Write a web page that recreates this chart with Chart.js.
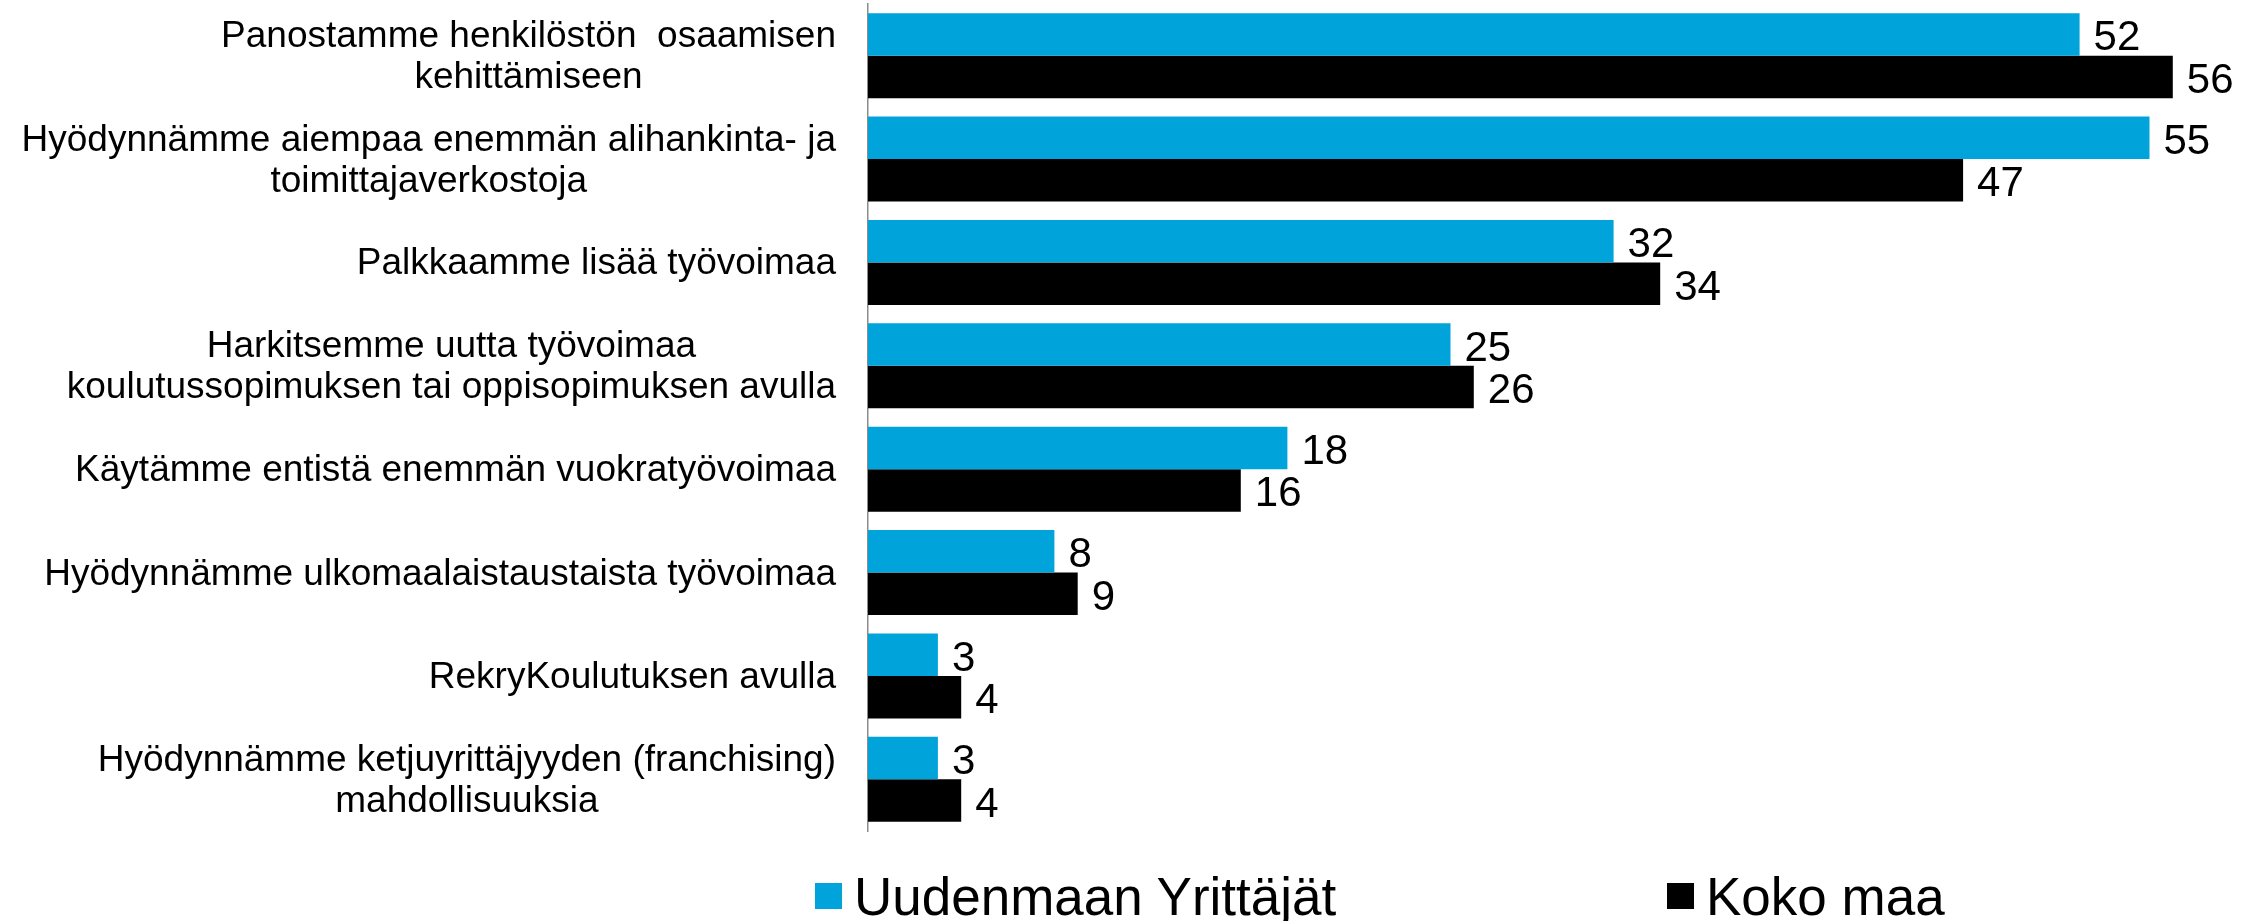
<!DOCTYPE html>
<html>
<head>
<meta charset="utf-8">
<script src="https://cdn.jsdelivr.net/npm/chart.js@4.4.1/dist/chart.umd.min.js"></script>
<style>
  html, body { margin: 0; padding: 0; background: #fff; overflow: hidden; }
  #wrap { position: relative; width: 2266px; height: 835px; }
  #legend { position: absolute; top: 866px; left: 0; width: 2259px; height: 60px;
            font-family: "Liberation Sans", Arial, sans-serif; font-size: 53px; color: #000; }
  .item { position: absolute; top: 0; height: 60px; display: flex; align-items: center; white-space: nowrap; }
  .box { width: 27px; height: 26px; margin-right: 12px; }
</style>
</head>
<body>
<div id="wrap"><canvas id="chart"></canvas></div>
<div id="legend"></div>
<script>
// === Data ===
const categories = [
  ['Panostamme henkilöstön  osaamisen', 'kehittämiseen'],
  ['Hyödynnämme aiempaa enemmän alihankinta- ja', 'toimittajaverkostoja'],
  ['Palkkaamme lisää työvoimaa'],
  ['Harkitsemme uutta työvoimaa', 'koulutussopimuksen tai oppisopimuksen avulla'],
  ['Käytämme entistä enemmän vuokratyövoimaa'],
  ['Hyödynnämme ulkomaalaistaustaista työvoimaa'],
  ['RekryKoulutuksen avulla'],
  ['Hyödynnämme ketjuyrittäjyyden (franchising)', 'mahdollisuuksia']
];
const uusimaaValues = [52, 55, 32, 25, 18, 8, 3, 3];
const kokoMaaValues = [56, 47, 34, 26, 16, 9, 4, 4];
const seriesNames = ['Uudenmaan Yrittäjät', 'Koko maa'];

const FONT = '"Liberation Sans", Arial, sans-serif';

// === Category labels: block right-aligned, lines centered ===
const categoryLabels = {
  id: 'categoryLabels',
  afterDraw(chart) {
    const ctx = chart.ctx;
    const yScale = chart.scales.y;
    const right = chart.chartArea.left - 32;
    ctx.save();
    ctx.font = '37px ' + FONT;
    ctx.fillStyle = '#000';
    ctx.textAlign = 'center';
    ctx.textBaseline = 'alphabetic';
    categories.forEach((lines, i) => {
      const w = Math.max(...lines.map(t => ctx.measureText(t).width));
      const cx = right - w / 2;
      const cy = yScale.getPixelForTick(i);
      lines.forEach((t, k) => {
        ctx.fillText(t, cx, cy + 12 + (k - (lines.length - 1) / 2) * 41);
      });
    });
    ctx.restore();
  }
};

// === Value labels at bar ends ===
const valueLabels = {
  id: 'valueLabels',
  afterDatasetsDraw(chart) {
    const ctx = chart.ctx;
    ctx.save();
    ctx.font = '42px ' + FONT;
    ctx.fillStyle = '#000';
    ctx.textAlign = 'left';
    ctx.textBaseline = 'alphabetic';
    chart.data.datasets.forEach((ds, di) => {
      chart.getDatasetMeta(di).data.forEach((bar, i) => {
        ctx.fillText(ds.data[i], bar.x + 14, bar.y + 16);
      });
    });
    ctx.restore();
  }
};

const chart = new Chart(document.getElementById('chart'), {
  type: 'bar',
  data: {
    labels: categories,
    datasets: [
      { label: seriesNames[0], data: uusimaaValues, backgroundColor: '#00A3DA',
        categoryPercentage: 0.822, barPercentage: 1.0 },
      { label: seriesNames[1], data: kokoMaaValues, backgroundColor: '#000000',
        categoryPercentage: 0.822, barPercentage: 1.0 }
    ]
  },
  options: {
    indexAxis: 'y',
    responsive: true,
    maintainAspectRatio: false,
    animation: false,
    layout: { padding: { top: 4, bottom: 4, left: 0, right: 0 } },
    plugins: {
      legend: { display: false },
      tooltip: { enabled: false }
    },
    scales: {
      x: { display: false, min: 0, max: 60 },
      y: {
        grid: { display: false, drawTicks: false },
        border: { display: true, color: '#8c8c8c', width: 1.5 },
        ticks: { display: false },
        afterFit: s => { s.width = 868; }
      }
    }
  },
  plugins: [categoryLabels, valueLabels]
});

// === Legend (HTML) ===
const legendLeft = [815, 1667];
const legend = document.getElementById('legend');
chart.data.datasets.forEach((ds, i) => {
  const item = document.createElement('div');
  item.className = 'item';
  item.style.left = legendLeft[i] + 'px';
  const box = document.createElement('span');
  box.className = 'box';
  box.style.background = ds.backgroundColor;
  const txt = document.createElement('span');
  txt.textContent = ds.label;
  item.appendChild(box);
  item.appendChild(txt);
  legend.appendChild(item);
});
</script>
</body>
</html>
